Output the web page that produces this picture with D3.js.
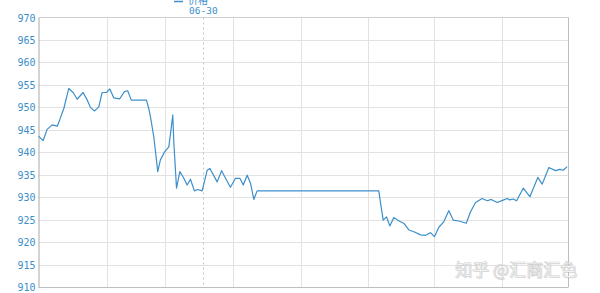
<!DOCTYPE html>
<html><head><meta charset="utf-8">
<script src="https://cdn.jsdelivr.net/npm/d3@7"></script>
<style>body{margin:0;background:#fff}svg{display:block}</style>
</head><body>
<svg id="c" width="600" height="293"></svg>
<script>
// day offsets from the start of the visible window
const days = [0,2.1,3.9,6.2,8.5,9.6,11.5,13.7,15.7,17.5,20.2,22.1,23.5,25.4,27.3,28.8,30.8,32.3,34.1,36.8,38.9,40.4,42,48.9,49.9,50.7,52.2,54,55.2,57.1,59,59.8,60.8,61.3,62.5,64,65.8,67.3,68.8,70.6,72.1,74.1,76.4,77.6,80.9,82.9,86.9,89.2,91.2,92.7,94.5,96,97.5,99,154.1,154.9,156.1,157.6,159.1,160.9,163.2,165.4,167.7,170,173,175.3,177.5,179.3,181.3,183.5,185.8,187.8,190.3,193.7,195.6,197.9,200.9,203.2,205,207.7,210.7,212.2,213.4,215,216.5,219.5,222.5,226.1,228.1,231.1,234.1,236.1,237.6,239.4];
const prices = [943.6,942.6,945.1,946.1,945.8,947.2,949.8,954.2,953.3,951.8,953.3,951.6,950,949.2,950.1,953.3,953.3,954.1,952.1,951.9,953.5,953.7,951.6,951.6,949.8,947.9,943.5,935.7,938.3,940.1,941.2,944.2,948.3,942,932,935.7,934.2,932.7,934,931.4,931.7,931.4,936,936.4,933.4,935.9,932.2,934.2,934.2,932.7,934.9,933.1,929.5,931.4,931.4,928.6,924.9,925.6,923.6,925.5,924.7,924.2,922.7,922.3,921.6,921.5,922.1,921.2,923.3,924.5,927,924.9,924.7,924.2,926.7,928.8,929.7,929.2,929.5,928.8,929.4,929.7,929.4,929.6,929.2,932,930.1,934.4,932.9,936.6,935.9,936.2,936,936.8];
const yTicks = [910,915,920,925,930,935,940,945,950,955,960,965,970];
const gridDays = [30.8,57.1,87.9,118.7,149,179.3,209.7];
const crossDay = 74.7;
const crossLabel = "06-30";
const seriesName = "价格";

const svg = d3.select("#c");
const L = 38.5, R = 568.5, T = 17.5, B = 287;
const x = d3.scaleLinear().domain([0,240]).range([L,R]);
const y = d3.scaleLinear().domain([910,970]).range([B,T]);
const blue = "#3c8fca";

// horizontal grid
svg.append("g").selectAll("line").data(yTicks.slice(1,-1)).join("line")
  .attr("x1",L).attr("x2",R).attr("y1",d=>Math.round(y(d))+0.5).attr("y2",d=>Math.round(y(d))+0.5)
  .attr("stroke","#e2e2e2").attr("stroke-width",1);
// vertical grid
svg.append("g").selectAll("line").data(gridDays).join("line")
  .attr("y1",T).attr("y2",B).attr("x1",d=>Math.round(x(d))+0.5).attr("x2",d=>Math.round(x(d))+0.5)
  .attr("stroke","#e2e2e2").attr("stroke-width",1);

// frame
svg.append("line").attr("x1",L).attr("x2",R).attr("y1",T).attr("y2",T).attr("stroke","#cfcfcf");
svg.append("line").attr("x1",R).attr("x2",R).attr("y1",T).attr("y2",B).attr("stroke","#bdbdbd");
svg.append("line").attr("x1",L).attr("x2",R).attr("y1",B+0.5).attr("y2",B+0.5).attr("stroke","#bdbdbd");

// y axis
const ax = svg.append("g").attr("transform",`translate(${L},0)`)
  .call(d3.axisLeft(y).tickValues(yTicks).tickSize(0).tickPadding(3));
ax.select(".domain").attr("stroke","#a9a9a9");
ax.selectAll("text").attr("fill",blue).attr("font-family","DejaVu Sans Mono").attr("font-size",10).attr("dy","0.35em");

// crosshair
svg.append("line").attr("x1",Math.round(x(crossDay))+0.5).attr("x2",Math.round(x(crossDay))+0.5)
  .attr("y1",T).attr("y2",B).attr("stroke","#c4c4c4").attr("stroke-dasharray","2,3");

// legend / tooltip at top
const cx = Math.round(x(crossDay));
svg.append("line").attr("x1",cx-29).attr("x2",cx-20).attr("y1",1.5).attr("y2",1.5).attr("stroke",blue).attr("stroke-width",1.5);
svg.append("text").attr("x",cx-15).attr("y",4).attr("fill",blue)
  .attr("font-family","Noto Sans CJK SC").attr("font-size",10).text(seriesName);
svg.append("text").attr("x",cx-14).attr("y",14).attr("fill",blue)
  .attr("font-family","DejaVu Sans Mono").attr("font-size",9.5).text(crossLabel);

// line
const pts = days.map((d,i)=>[d,prices[i]]);
svg.append("path").datum(pts)
  .attr("fill","none").attr("stroke",blue).attr("stroke-width",1.2).attr("stroke-linejoin","round")
  .attr("d",d3.line().x(d=>x(d[0])).y(d=>y(d[1])));

// watermark
const wm = svg.append("g");
wm.append("text").attr("x",456).attr("y",277).attr("fill","#9a9a9a").attr("opacity",0.3)
  .attr("font-family","Noto Sans CJK SC").attr("font-size",17).text("知乎 @汇商汇色");
wm.append("text").attr("x",455).attr("y",276).attr("fill","#ffffff").attr("stroke","#cfcfcf").attr("stroke-width",0.6)
  .attr("font-family","Noto Sans CJK SC").attr("font-size",17).text("知乎 @汇商汇色");
</script>
</body></html>
